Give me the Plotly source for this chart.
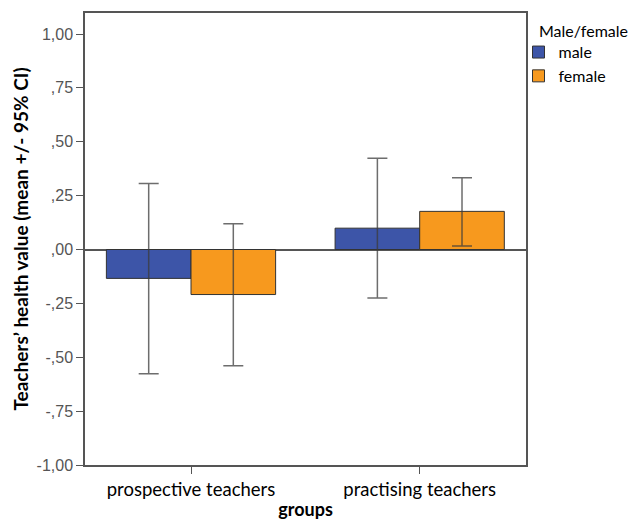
import plotly.graph_objects as go

groups = ["prospective teachers", "practising teachers"]
series_names = ["male", "female"]
legend_title = "Male/female"
male_mean = [-0.134, 0.099]
male_ci_low = [-0.577, -0.225]
male_ci_high = [0.306, 0.423]
female_mean = [-0.209, 0.177]
female_ci_low = [-0.540, 0.016]
female_ci_high = [0.120, 0.333]
y_tick_vals = [1.0, 0.75, 0.5, 0.25, 0.0, -0.25, -0.5, -0.75, -1.0]
y_tick_text = ["1,00", ",75", ",50", ",25", ",00", "-,25", "-,50", "-,75", "-1,00"]

colors = ["#3d55a8", "#f7991e"]
means = [male_mean, female_mean]
lows = [male_ci_low, female_ci_low]
highs = [male_ci_high, female_ci_high]

fig = go.Figure()
for name, col, m, lo, hi in zip(series_names, colors, means, lows, highs):
    fig.add_trace(go.Bar(
        x=groups, y=m, name=name,
        marker=dict(color=col, line=dict(color="#333333", width=1)),
        error_y=dict(type="data", symmetric=False,
                     array=[h - v for h, v in zip(hi, m)],
                     arrayminus=[v - l for v, l in zip(m, lo)],
                     color="rgba(60,60,60,0.75)", thickness=1.5, width=10),
    ))

fig.add_annotation(
    text=legend_title, xref="paper", yref="paper", x=1.025, y=0.962,
    xanchor="left", yanchor="middle", showarrow=False,
    font=dict(size=16, family="Lato, sans-serif", color="black"),
)

fig.update_layout(
    width=631, height=520,
    margin=dict(l=85, r=105, t=13, b=55, autoexpand=False),
    paper_bgcolor="white", plot_bgcolor="white",
    barmode="group", bargap=0.26, bargroupgap=0,
    font=dict(family="Lato, Open Sans, sans-serif", color="black"),
    legend=dict(
        x=0.983, y=0.951, xanchor="left", yanchor="top",
        bgcolor="rgba(0,0,0,0)",
        font=dict(size=16, family="Lato, sans-serif"),
        tracegroupgap=0, itemwidth=30,
    ),
    xaxis=dict(
        range=[-0.4635, 1.4648], automargin=False,
        showline=True, linecolor="#555555", linewidth=1.5, mirror=True,
        ticks="outside", ticklen=7, tickcolor="#555555",
        tickfont=dict(size=18.5, family="Lato, sans-serif", color="black"),
        title=dict(text="<b>groups</b>", standoff=4,
                   font=dict(size=18, family="Lato, sans-serif", color="black")),
        showgrid=False,
    ),
    yaxis=dict(
        range=[-1.0, 1.0975], automargin=False,
        tickvals=y_tick_vals, ticktext=y_tick_text,
        showline=True, linecolor="#555555", linewidth=1.5, mirror=True,
        ticks="outside", ticklen=7, tickcolor="#555555",
        tickfont=dict(size=16, family="Liberation Sans, Arial, sans-serif", color="#555555"),
        title=dict(text="<b>Teachers’ health value (mean +/- 95% CI)</b>", standoff=3,
                   font=dict(size=19, family="Lato, sans-serif", color="black")),
        showgrid=False,
        zeroline=True, zerolinecolor="#555555", zerolinewidth=1.5,
    ),
)

fig.write_html("out.html", config={"displayModeBar": False},
               post_script="document.body.style.margin='0';document.body.style.overflow='hidden';")
